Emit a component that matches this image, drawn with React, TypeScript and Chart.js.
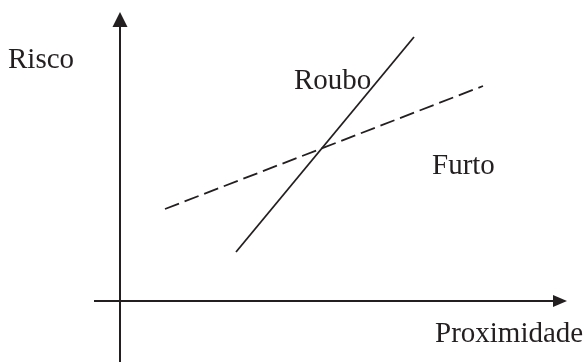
import React, { useEffect, useRef } from "react";
import { Chart, registerables } from "chart.js";

Chart.register(...registerables);

// Conceptual diagram values (abstract units, axes cross at 0,0)
const rouboX = [11.6, 29.4];
const rouboY = [4.9, 26.4];
const furtoX = [4.5, 36.3];
const furtoY = [9.2, 21.5];

// Axis extents
const xAxisRange = [-2.6, 44.7];
const yAxisRange = [-6.1, 28.9];

// Labels
const labelTexts = ["Risco", "Proximidade", "Roubo", "Furto"];
const labelAnchors = [
  [-11.2, 23.3],
  [31.5, -4.1],
  [17.4, 21.2],
  [31.2, 12.7],
];

const INK = "#231f20";
const FONT = '29px "Liberation Serif", "Times New Roman", serif';

const axesPlugin = {
  id: "axesPlugin",
  beforeDatasetsDraw(chart: any) {
    const { ctx, scales } = chart;
    const xs = scales.x;
    const ys = scales.y;
    const x0 = xs.getPixelForValue(0);
    const y0 = ys.getPixelForValue(0);
    const xL = xs.getPixelForValue(xAxisRange[0]);
    const xR = xs.getPixelForValue(xAxisRange[1]);
    const yB = ys.getPixelForValue(yAxisRange[0]);
    const yT = ys.getPixelForValue(yAxisRange[1]);
    ctx.save();
    ctx.strokeStyle = INK;
    ctx.fillStyle = INK;
    ctx.lineWidth = 2;
    // x axis
    ctx.beginPath();
    ctx.moveTo(xL, y0);
    ctx.lineTo(xR - 12, y0);
    ctx.stroke();
    ctx.beginPath();
    ctx.moveTo(xR, y0);
    ctx.lineTo(xR - 14, y0 - 6);
    ctx.lineTo(xR - 14, y0 + 6);
    ctx.closePath();
    ctx.fill();
    // y axis
    ctx.beginPath();
    ctx.moveTo(x0, yB);
    ctx.lineTo(x0, yT + 12);
    ctx.stroke();
    ctx.beginPath();
    ctx.moveTo(x0, yT);
    ctx.lineTo(x0 - 7.5, yT + 15);
    ctx.lineTo(x0 + 7.5, yT + 15);
    ctx.closePath();
    ctx.fill();
    ctx.restore();
  },
  afterDraw(chart: any) {
    const { ctx, scales } = chart;
    ctx.save();
    ctx.fillStyle = INK;
    ctx.font = FONT;
    ctx.textAlign = "left";
    ctx.textBaseline = "alphabetic";
    labelTexts.forEach((t, i) => {
      const px = scales.x.getPixelForValue(labelAnchors[i][0]);
      const py = scales.y.getPixelForValue(labelAnchors[i][1]);
      ctx.fillText(t, px, py);
    });
    ctx.restore();
  },
};

export default function App() {
  const ref = useRef<HTMLCanvasElement>(null);
  useEffect(() => {
    if (!ref.current) return;
    const chart = new Chart(ref.current, {
      type: "scatter",
      data: {
        datasets: [
          {
            label: "Roubo",
            data: rouboX.map((x, i) => ({ x, y: rouboY[i] })),
            showLine: true,
            borderColor: INK,
            borderWidth: 1.8,
            pointRadius: 0,
          },
          {
            label: "Furto",
            data: furtoX.map((x, i) => ({ x, y: furtoY[i] })),
            showLine: true,
            borderColor: INK,
            borderWidth: 1.8,
            borderDash: [15, 6],
            pointRadius: 0,
          },
        ],
      },
      options: {
        animation: false,
        responsive: false,
        maintainAspectRatio: false,
        layout: { padding: 0 },
        plugins: { legend: { display: false }, tooltip: { enabled: false } },
        scales: {
          x: { type: "linear", display: false, min: -12, max: 46.6 },
          y: { type: "linear", display: false, min: -6.1, max: 30.1 },
        },
      },
      plugins: [axesPlugin],
    });
    return () => chart.destroy();
  }, []);
  return (
    <div style={{ position: "fixed", left: 0, top: 0, width: 586, height: 362, background: "#fff" }}>
      <canvas ref={ref} width={586} height={362} style={{ display: "block" }} />
    </div>
  );
}
